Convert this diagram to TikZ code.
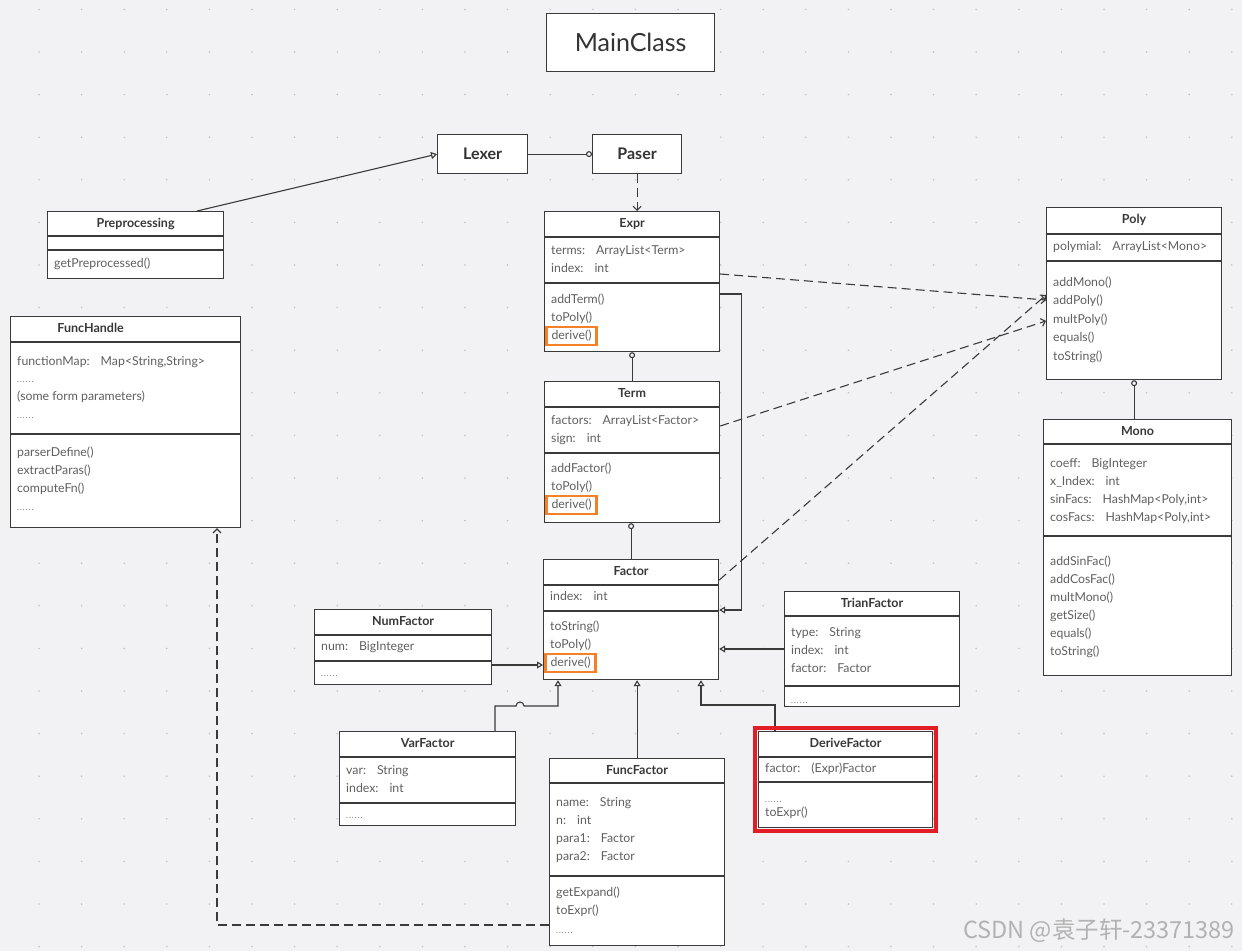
\documentclass[tikz,border=0pt]{standalone}
\usepackage{fontspec}
\setmainfont{Lato}
\newfontfamily\cjk{Noto Sans CJK SC}
\usetikzlibrary{arrows.meta}
\definecolor{bgc}{RGB}{242,242,244}
\definecolor{dotc}{RGB}{196,196,200}
\definecolor{linec}{RGB}{58,58,58}
\definecolor{txtc}{RGB}{96,96,96}
\definecolor{hlorange}{RGB}{245,128,37}
\definecolor{hlred}{RGB}{228,28,38}

\tikzset{
  classbox/.style={draw=linec,fill=white,line width=1.2pt,anchor=north west,inner sep=0pt},
  cname/.style={font=\bfseries\fontsize{12.5}{14}\selectfont,text=black!78,inner sep=0pt,text height=9pt,text depth=2.5pt},
  member/.style={font=\fontsize{12.3}{14}\selectfont,text=txtc,anchor=west,inner sep=0pt,text height=8.5pt,text depth=2.5pt},
  marked/.style={draw=hlorange,line width=2.6pt,inner xsep=5pt,inner ysep=3.5pt},
  redframe/.style={draw=hlred,line width=3.5pt},
  conn/.style={draw=linec,line width=1.1pt},
  inherit/.style={conn,-{Triangle[open,length=6pt,width=7pt]}},
  aggr/.style={conn,-{Circle[open,length=6pt]}},
  depend/.style={conn,dash pattern=on 9pt off 5pt,-{Straight Barb[length=4pt,width=8pt]}}
}
\newcommand\umlbox[7][0]{%
  \node[classbox,minimum width=#5pt,minimum height=#6pt] (#2) at (#3,#4) {};
  \node[cname] (#2-name) at ([xshift=#1pt,yshift=-13pt]#2.north) {#7};}
\newcommand\umlrule[2]{\draw[line width=1.2pt,draw=linec] ([yshift=-#2pt]#1.north west) -- ([yshift=-#2pt]#1.north east);}
\newcommand\umllist[5]{\foreach \t [count=\i from 0] in {#5}{%
  \node[member] (#1-#2\i) at ([xshift=7pt,yshift={-(#3+#4*\i)*1pt}]#1.north west) {\t};}}
\newcommand\moredots{{\fontsize{8}{9}\selectfont.\kern1pt.\kern1pt.\kern1pt.\kern1pt.\kern1pt.}}
\newcommand\sep{\hspace{11pt}}

\begin{document}
\begin{tikzpicture}[x=1pt,y=-1pt]
\fill[bgc] (0,0) rectangle (1242,951);
\useasboundingbox (0,0) rectangle (1242,951);
\foreach \i in {0,...,28}{\foreach \j in {0,...,22}{\fill[dotc] (39+42.6*\i,9.4+42.6*\j) circle (0.9pt);}}

\node[classbox,minimum width=168pt,minimum height=58pt,font=\fontsize{25}{28}\selectfont,text=black!80] (main) at (546,13) {MainClass};
\node[classbox,minimum width=90pt,minimum height=39pt,font=\bfseries\fontsize{16}{18}\selectfont,text=black!80] (lexer) at (437,134) {Lexer};
\node[classbox,minimum width=89pt,minimum height=39pt,font=\bfseries\fontsize{16}{18}\selectfont,text=black!80] (paser) at (592,134) {Paser};

\umlbox{prep}{47}{211}{176}{67}{Preprocessing}
\umlrule{prep}{25}\umlrule{prep}{39}
\umllist{prep}{m}{53}{18}{getPreprocessed()}

\umlbox[-35]{fh}{10}{316}{230}{211}{FuncHandle}
\umlrule{fh}{26}\umlrule{fh}{118}
\umllist{fh}{a}{46}{17.7}{{functionMap:\sep Map<String,String>},\moredots,(some form parameters),\moredots}
\umllist{fh}{m}{137}{18.3}{parserDefine(),extractParas(),computeFn(),\moredots}

\umlbox{expr}{544}{211}{175}{140}{Expr}
\umlrule{expr}{26}\umlrule{expr}{72}
\umllist{expr}{a}{40}{18}{terms:\sep ArrayList<Term>,index:\sep int}
\umllist{expr}{m}{89}{18}{addTerm(),toPoly()}
\node[member,marked] (expr-derive) at ([xshift=1.3pt,yshift=-125pt]expr.north west) {derive()};

\umlbox{term}{544}{381}{175}{141}{Term}
\umlrule{term}{26}\umlrule{term}{72}
\umllist{term}{a}{40}{18}{factors:\sep ArrayList<Factor>,sign:\sep int}
\umllist{term}{m}{88}{18}{addFactor(),toPoly()}
\node[member,marked] (term-derive) at ([xshift=1.3pt,yshift=-124pt]term.north west) {derive()};

\umlbox{factor}{543}{559}{175}{120}{Factor}
\umlrule{factor}{26}\umlrule{factor}{52}
\umllist{factor}{a}{38}{18}{index:\sep int}
\umllist{factor}{m}{68}{18}{toString(),toPoly()}
\node[member,marked] (factor-derive) at ([xshift=1.3pt,yshift=-104pt]factor.north west) {derive()};

\umlbox{poly}{1046}{207}{175}{172}{Poly}
\umlrule{poly}{27}\umlrule{poly}{54}
\umllist{poly}{a}{40}{18}{polymial:\sep ArrayList<Mono>}
\umllist{poly}{m}{76}{18.5}{addMono(),addPoly(),multPoly(),equals(),toString()}

\umlbox{mono}{1043}{419}{188}{256}{Mono}
\umlrule{mono}{25}\umlrule{mono}{117}
\umllist{mono}{a}{45}{18}{coeff:\sep BigInteger,x\_Index:\sep int,{sinFacs:\sep HashMap<Poly,int>},{cosFacs:\sep HashMap<Poly,int>}}
\umllist{mono}{m}{143}{18}{addSinFac(),addCosFac(),multMono(),getSize(),equals(),toString()}

\umlbox{num}{314}{609}{177}{75}{NumFactor}
\umlrule{num}{26}\umlrule{num}{52}
\umllist{num}{a}{38}{18}{num:\sep BigInteger}
\umllist{num}{m}{64}{18}{\moredots}

\umlbox{var}{339}{731}{176}{94}{VarFactor}
\umlrule{var}{26}\umlrule{var}{72}
\umllist{var}{a}{40}{18}{var:\sep String,index:\sep int}
\umllist{var}{m}{84}{18}{\moredots}

\umlbox{funcf}{549}{758}{175}{187}{FuncFactor}
\umlrule{funcf}{25}\umlrule{funcf}{118}
\umllist{funcf}{a}{45}{18}{name:\sep String,n:\sep int,para1:\sep Factor,para2:\sep Factor}
\umllist{funcf}{m}{135}{18.5}{getExpand(),toExpr(),\moredots}

\umlbox{trian}{784}{591}{175}{115}{TrianFactor}
\umlrule{trian}{25}\umlrule{trian}{95}
\umllist{trian}{a}{42}{18}{type:\sep String,index:\sep int,factor:\sep Factor}
\umllist{trian}{m}{109}{18}{\moredots}

\umlbox{derive}{758}{731}{174}{96}{DeriveFactor}
\umlrule{derive}{26}\umlrule{derive}{51}
\umllist{derive}{a}{38}{18}{factor:\sep (Expr)Factor}
\umllist{derive}{m}{68}{14}{\moredots,toExpr()}

\draw[inherit] ([xshift=150pt]prep.north west) -- (lexer.west);
\draw[aggr] (lexer.east) -- (paser.west);
\draw[depend] (paser.south) -- (paser.south |- expr.north);
\draw[aggr] (term.north) -- (expr.south);
\draw[aggr] (factor.north) -- (factor.north |- term.south);
\draw[inherit] ([yshift=-83pt]expr.north east) -- ++(21,0) |- ([yshift=-51pt]factor.north east);
\draw[depend] ([yshift=-63pt]expr.north east) -- ([yshift=-93pt]poly.north west);
\draw[depend] ([yshift=-45pt]term.north east) -- ([yshift=-114pt]poly.north west);
\draw[depend] ([yshift=-21pt]factor.north east) -- ([yshift=-88pt]poly.north west);
\draw[aggr] (mono.north -| poly.south) -- (poly.south);
\draw[inherit] ([yshift=-56pt]num.north east) -- ([yshift=-106pt]factor.north west);
\draw[inherit] ([xshift=156pt]var.north west) |- (516,706) arc[start angle=180,end angle=360,radius=4] -| ([xshift=15pt]factor.south west);
\draw[inherit] (funcf.north) -- (funcf.north |- factor.south);
\draw[inherit] ([xshift=17pt]derive.north west) -- ++(0,-26) -| ([xshift=158pt]factor.south west);
\draw[inherit] ([yshift=-58pt]trian.north west) -- ([yshift=-90pt]factor.north east);
\draw[depend] ([yshift=-167pt]funcf.north west) -| ([xshift=207pt]fh.south west);
\draw[redframe] ([shift={(-3pt,3pt)}]derive.north west) rectangle ([shift={(3pt,-3pt)}]derive.south east);

\node[font=\cjk\fontsize{23.5}{26}\selectfont,text=black!30] (mark) at (1099,931) {CSDN @袁子轩-23371389};
\end{tikzpicture}
\end{document}
